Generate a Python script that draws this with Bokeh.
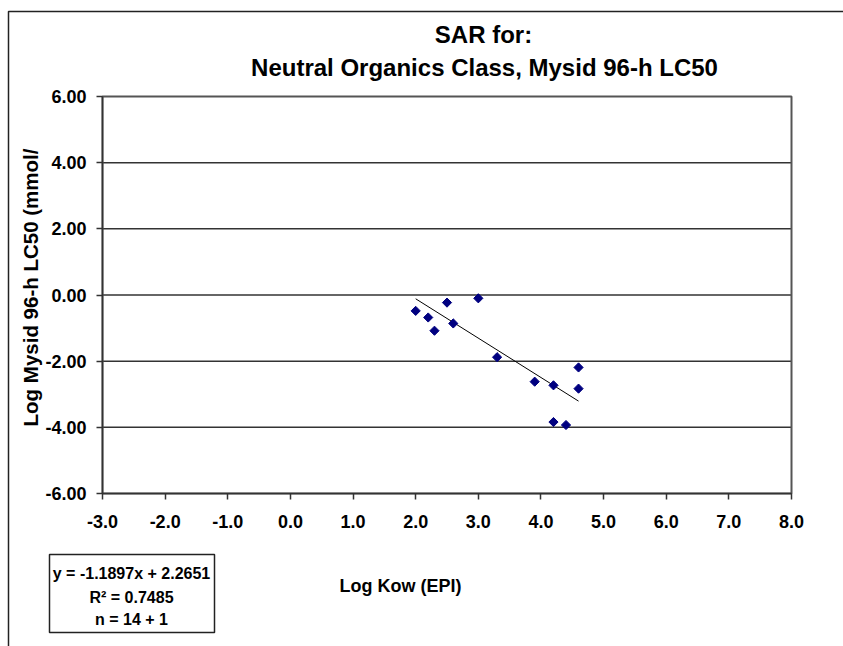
import numpy as np
from bokeh.plotting import figure
from bokeh.models import Label, BoxAnnotation, FixedTicker, CustomJSTickFormatter, ColumnDataSource, Range1d
from bokeh.embed import file_html
from bokeh.resources import INLINE

# ---- data ----
log_kow = [2.0, 2.2, 2.3, 2.5, 2.6, 3.0, 3.3, 3.9, 4.2, 4.6, 4.6, 4.2, 4.4]
log_lc50 = [-0.48, -0.68, -1.08, -0.23, -0.86, -0.10, -1.88, -2.62, -2.73, -2.19, -2.83, -3.84, -3.93]
slope = -1.1897
intercept = 2.2651
r2 = 0.7485
n_text = "n = 14 + 1"
x_ticks = [-3.0, -2.0, -1.0, 0.0, 1.0, 2.0, 3.0, 4.0, 5.0, 6.0, 7.0, 8.0]
y_ticks = [-6.0, -4.0, -2.0, 0.0, 2.0, 4.0, 6.0]
title_line1 = "SAR for:"
title_line2 = "Neutral Organics Class, Mysid 96-h LC50"
x_label = "Log Kow (EPI)"
y_label = "Log Mysid 96-h LC50 (mmol/"

# ---- layout (pixels on the page) ----
W, H = 843, 646
PL, PR, PT, PB = 102, 791, 96, 493   # plot-area edges
FONT = "Liberation Sans"

x0, x1 = x_ticks[0], x_ticks[-1]
y0, y1 = y_ticks[0], y_ticks[-1]
kx = (PR - PL) / (x1 - x0)
ky = (PB - PT) / (y1 - y0)
xr = Range1d(x0 - PL / kx, x1 + (W - PR) / kx)
yr = Range1d(y0 - (H - PB) / ky, y1 + PT / ky)

p = figure(width=W, height=H, x_range=xr, y_range=yr, title=None,
           output_backend="svg", toolbar_location=None, min_border=0)
p.background_fill_color = "white"
p.border_fill_color = "white"
p.outline_line_color = None
p.xgrid.visible = False
p.ygrid.visible = False

# axes fixed at the plot-area edges
p.xaxis.fixed_location = y0
p.yaxis.fixed_location = x0
p.xaxis.bounds = (x0, x1)
p.yaxis.bounds = (y0, y1)
for ax in (p.xaxis, p.yaxis):
    ax.axis_line_color = "#333333"
    ax.axis_line_width = 1.5
    ax.major_tick_line_color = "#333333"
    ax.major_tick_line_width = 1.5
    ax.major_tick_in = 0
    ax.major_tick_out = 6
    ax.minor_tick_line_color = None
    ax.major_label_text_font = FONT
    ax.major_label_text_font_style = "bold"
    ax.major_label_text_font_size = "18px"
    ax.major_label_text_color = "black"
p.xaxis.ticker = FixedTicker(ticks=x_ticks)
p.yaxis.ticker = FixedTicker(ticks=y_ticks)
p.xaxis.formatter = CustomJSTickFormatter(code="return tick.toFixed(1);")
p.yaxis.formatter = CustomJSTickFormatter(code="return tick.toFixed(2);")
p.xaxis.major_label_standoff = 15
p.yaxis.major_label_standoff = 10

# horizontal gridlines and plot-area border (top/right)
p.segment(x0=[x0] * (len(y_ticks) - 2), x1=[x1] * (len(y_ticks) - 2),
          y0=y_ticks[1:-1], y1=y_ticks[1:-1], line_color="#333333", line_width=1.5)
p.quad(left=[x0], right=[x1], bottom=[y0], top=[y1], fill_color=None,
       line_color="#555555", line_width=2)

# trend line from the regression coefficients
xs = np.array([min(log_kow), max(log_kow)])
p.line(xs, slope * xs + intercept, line_color="black", line_width=1)

src = ColumnDataSource(dict(x=log_kow, y=log_lc50))
p.scatter("x", "y", source=src, marker="square", angle=np.pi / 4, size=6.5,
          fill_color="#000080", line_color="#000080")

# outer chart border
p.add_layout(BoxAnnotation(left=8, right=W + 20, top=H - 11, bottom=-20,
                           left_units="screen", right_units="screen",
                           top_units="screen", bottom_units="screen",
                           fill_color=None, line_color="#222222", line_alpha=1.0,
                           line_width=1.5))

def lab(txt, x, y, size, angle=0.0):
    p.add_layout(Label(x=x, y=H - y, x_units="screen", y_units="screen", text=txt,
                       angle=angle, text_align="center", text_baseline="middle",
                       text_color="black", text_font=FONT, text_font_style="bold",
                       text_font_size=size))

lab(title_line1, 483, 34, "24px")
lab(title_line2, 484, 67, "24px")
lab(y_label, 30, 287, "20.5px", angle=np.pi / 2)
lab(x_label, 400, 585, "18px")

# equation box
p.add_layout(BoxAnnotation(left=49, right=214, top=H - 554, bottom=H - 632,
                           left_units="screen", right_units="screen",
                           top_units="screen", bottom_units="screen",
                           fill_color="white", fill_alpha=1.0,
                           line_color="#222222", line_alpha=1.0, line_width=1.5))
eq_lines = [f"y = {slope}x + {intercept}", f"R\u00b2 = {r2}", n_text]
for t, yy in zip(eq_lines, [573, 597, 619]):
    lab(t, 131, yy, "16px")

open("out.html", "w").write(file_html(p, INLINE))
